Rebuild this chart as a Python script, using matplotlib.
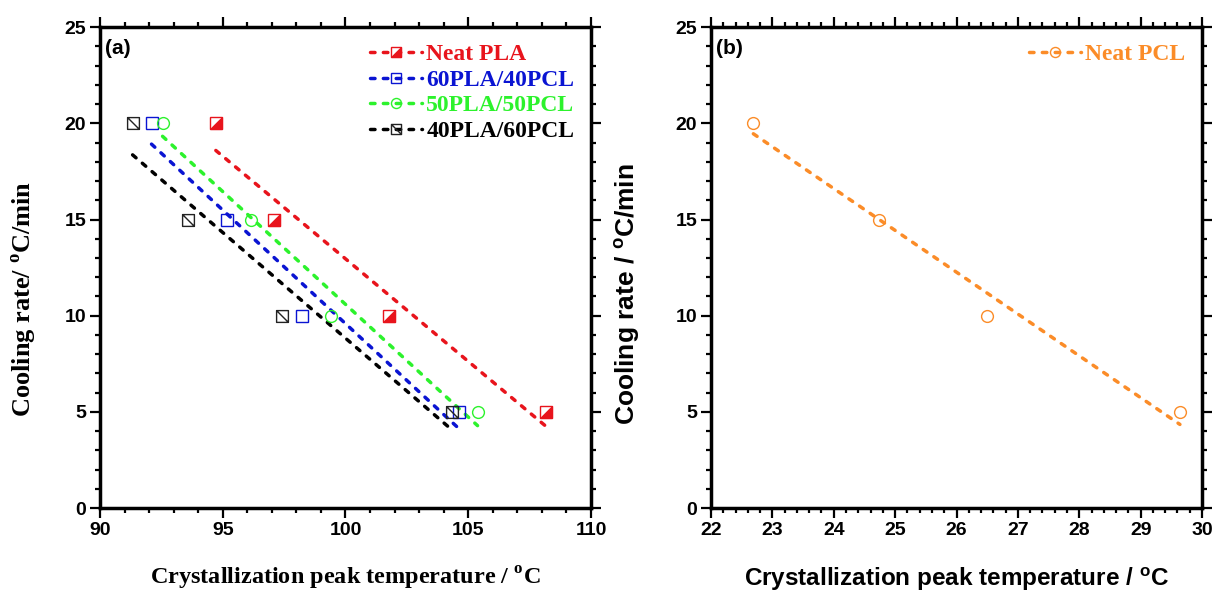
import matplotlib
matplotlib.use('Agg')
import matplotlib.pyplot as plt
import numpy as np
from matplotlib.path import Path
from matplotlib.legend_handler import HandlerTuple

# Cooling rates (°C/min) and crystallization peak temperatures (°C)
rate = [20, 15, 10, 5]
t_neat_pla = [94.72, 97.07, 101.76, 108.17]
t_60_40 = [92.10, 95.17, 98.23, 104.64]
t_50_50 = [92.55, 96.15, 99.41, 105.38]
t_40_60 = [91.33, 93.57, 97.41, 104.34]
t_neat_pcl = [22.69, 24.74, 26.49, 29.64]

labels_a = ['Neat PLA', '60PLA/40PCL', '50PLA/50PCL', '40PLA/60PCL']
colors_a = ['#e8141c', '#0a14d2', '#2cf22c', '#000000']
pcl_color = '#fb8c28'

SANS = 'Liberation Sans'
SERIF = 'Liberation Serif'

# custom markers: half-filled square (lower right triangle) and square with a diagonal
tri_path = Path([(-1, -1), (1, -1), (1, 1), (-1, -1)],
                [Path.MOVETO, Path.LINETO, Path.LINETO, Path.CLOSEPOLY])
slash_path = Path([(-1, -1), (-1, 1), (1, 1), (1, -1), (-1, -1), (-1, 1), (1, -1)],
                  [Path.MOVETO, Path.LINETO, Path.LINETO, Path.LINETO,
                   Path.CLOSEPOLY, Path.MOVETO, Path.LINETO])

fig = plt.figure(figsize=(12.16, 5.91), dpi=100)
ax1 = fig.add_axes([0.0822, 0.1404, 0.4038, 0.8136])
ax2 = fig.add_axes([0.5847, 0.1404, 0.4038, 0.8136])

dash = (1.3, 2.4)
lw = 2.5
ms = 8.5
overlay = {tuple: HandlerTuple(ndivide=1, pad=0)}


def fit_line(ax, x, y, color):
    k, b = np.polyfit(x, y, 1)
    xs = np.array([min(x), max(x)])
    ln, = ax.plot(xs, k * xs + b, color=color, lw=lw, dashes=dash,
                  dash_capstyle='round', zorder=2)
    return ln


def style_axis(ax, xlim, xmaj, xmin_step):
    ax.set_xlim(*xlim)
    ax.set_ylim(0, 25)
    ax.set_xticks(np.arange(xlim[0], xlim[1] + 0.01, xmaj))
    ax.set_xticks(np.arange(xlim[0], xlim[1] + 0.01, xmin_step), minor=True)
    ax.set_yticks(np.arange(0, 26, 5))
    ax.set_yticks(np.arange(0, 26, 1), minor=True)
    for s in ax.spines.values():
        s.set_linewidth(2.5)
    ax.tick_params(which='both', direction='out', top=True, right=True,
                   labeltop=False, labelright=False, width=1.6)
    ax.tick_params(which='major', length=7, pad=3)
    ax.tick_params(which='minor', length=3.5)
    for t in ax.get_xticklabels() + ax.get_yticklabels():
        t.set_fontfamily(SANS)
        t.set_fontweight('bold')
        t.set_fontsize(14)


# ---- panel (a) ----
handles = []
series = [t_neat_pla, t_60_40, t_50_50, t_40_60]
for i, (tx, c) in enumerate(zip(series, colors_a)):
    ln = fit_line(ax1, tx, rate, c)
    if i == 0:
        m1, = ax1.plot(tx, rate, ls='none', marker='s', ms=ms, mfc='white',
                       mec=c, mew=1.0, zorder=3)
        m2, = ax1.plot(tx, rate, ls='none', marker=tri_path, ms=ms, mfc=c,
                       mec=c, mew=0.8, zorder=4)
        handles.append((ln, m1, m2))
    elif i == 1:
        m1, = ax1.plot(tx, rate, ls='none', marker='s', ms=ms, mfc='none',
                       mec=c, mew=1.0, zorder=3)
        handles.append((ln, m1))
    elif i == 2:
        m1, = ax1.plot(tx, rate, ls='none', marker='o', ms=ms, mfc='none',
                       mec=c, mew=1.0, zorder=3)
        handles.append((ln, m1))
    else:
        m1, = ax1.plot(tx, rate, ls='none', marker=slash_path, ms=ms, mfc='none',
                       mec='#222222', mew=1.0, zorder=3)
        handles.append((ln, m1))

style_axis(ax1, (90, 110), 5, 1)
leg = ax1.legend(handles, labels_a, handler_map=overlay,
                 loc='upper right', bbox_to_anchor=(1.0, 1.0), frameon=False,
                 prop={'family': SERIF, 'weight': 'bold', 'size': 17},
                 handlelength=2.2, handletextpad=0.2, labelspacing=0.17,
                 borderaxespad=0.3, markerscale=0.85)
for txt, c in zip(leg.get_texts(), colors_a):
    txt.set_color(c)
ax1.text(0.01, 0.955, '(a)', transform=ax1.transAxes, fontfamily=SANS,
         fontweight='bold', fontsize=15, va='center', ha='left')
ax1.set_xlabel(r'Crystallization peak temperature / $^\mathregular{o}$C',
               fontfamily=SERIF, fontweight='bold', fontsize=17.5)
ax1.xaxis.set_label_coords(0.5, -0.118)
ax1.set_ylabel(r'Cooling rate/ $^\mathregular{o}$C/min',
               fontfamily=SERIF, fontweight='bold', fontsize=19)
ax1.yaxis.set_label_coords(-0.153, 0.434)
ax1.yaxis.label.set_va('center')

# ---- panel (b) ----
ln = fit_line(ax2, t_neat_pcl, rate, pcl_color)
m1, = ax2.plot(t_neat_pcl, rate, ls='none', marker='o', ms=ms, mfc='none',
               mec=pcl_color, mew=1.0, zorder=3)
style_axis(ax2, (22, 30), 1, 0.2)
leg2 = ax2.legend([(ln, m1)], ['Neat PCL'], handler_map=overlay,
                  loc='upper right', bbox_to_anchor=(1.0, 1.0), frameon=False,
                  prop={'family': SERIF, 'weight': 'bold', 'size': 17},
                  handlelength=2.2, handletextpad=0.2,
                  borderaxespad=0.3, markerscale=0.85)
leg2.get_texts()[0].set_color(pcl_color)
ax2.text(0.01, 0.955, '(b)', transform=ax2.transAxes, fontfamily=SANS,
         fontweight='bold', fontsize=15, va='center', ha='left')
ax2.set_xlabel(r'Crystallization peak temperature / $^\mathregular{o}$C',
               fontfamily=SANS, fontweight='bold', fontsize=17.5)
ax2.xaxis.set_label_coords(0.5, -0.118)
ax2.set_ylabel(r'Cooling rate / $^\mathregular{o}$C/min',
               fontfamily=SANS, fontweight='bold', fontsize=19)
ax2.yaxis.set_label_coords(-0.17, 0.445)
ax2.yaxis.label.set_va('center')

fig.savefig('out.png', dpi=100)
